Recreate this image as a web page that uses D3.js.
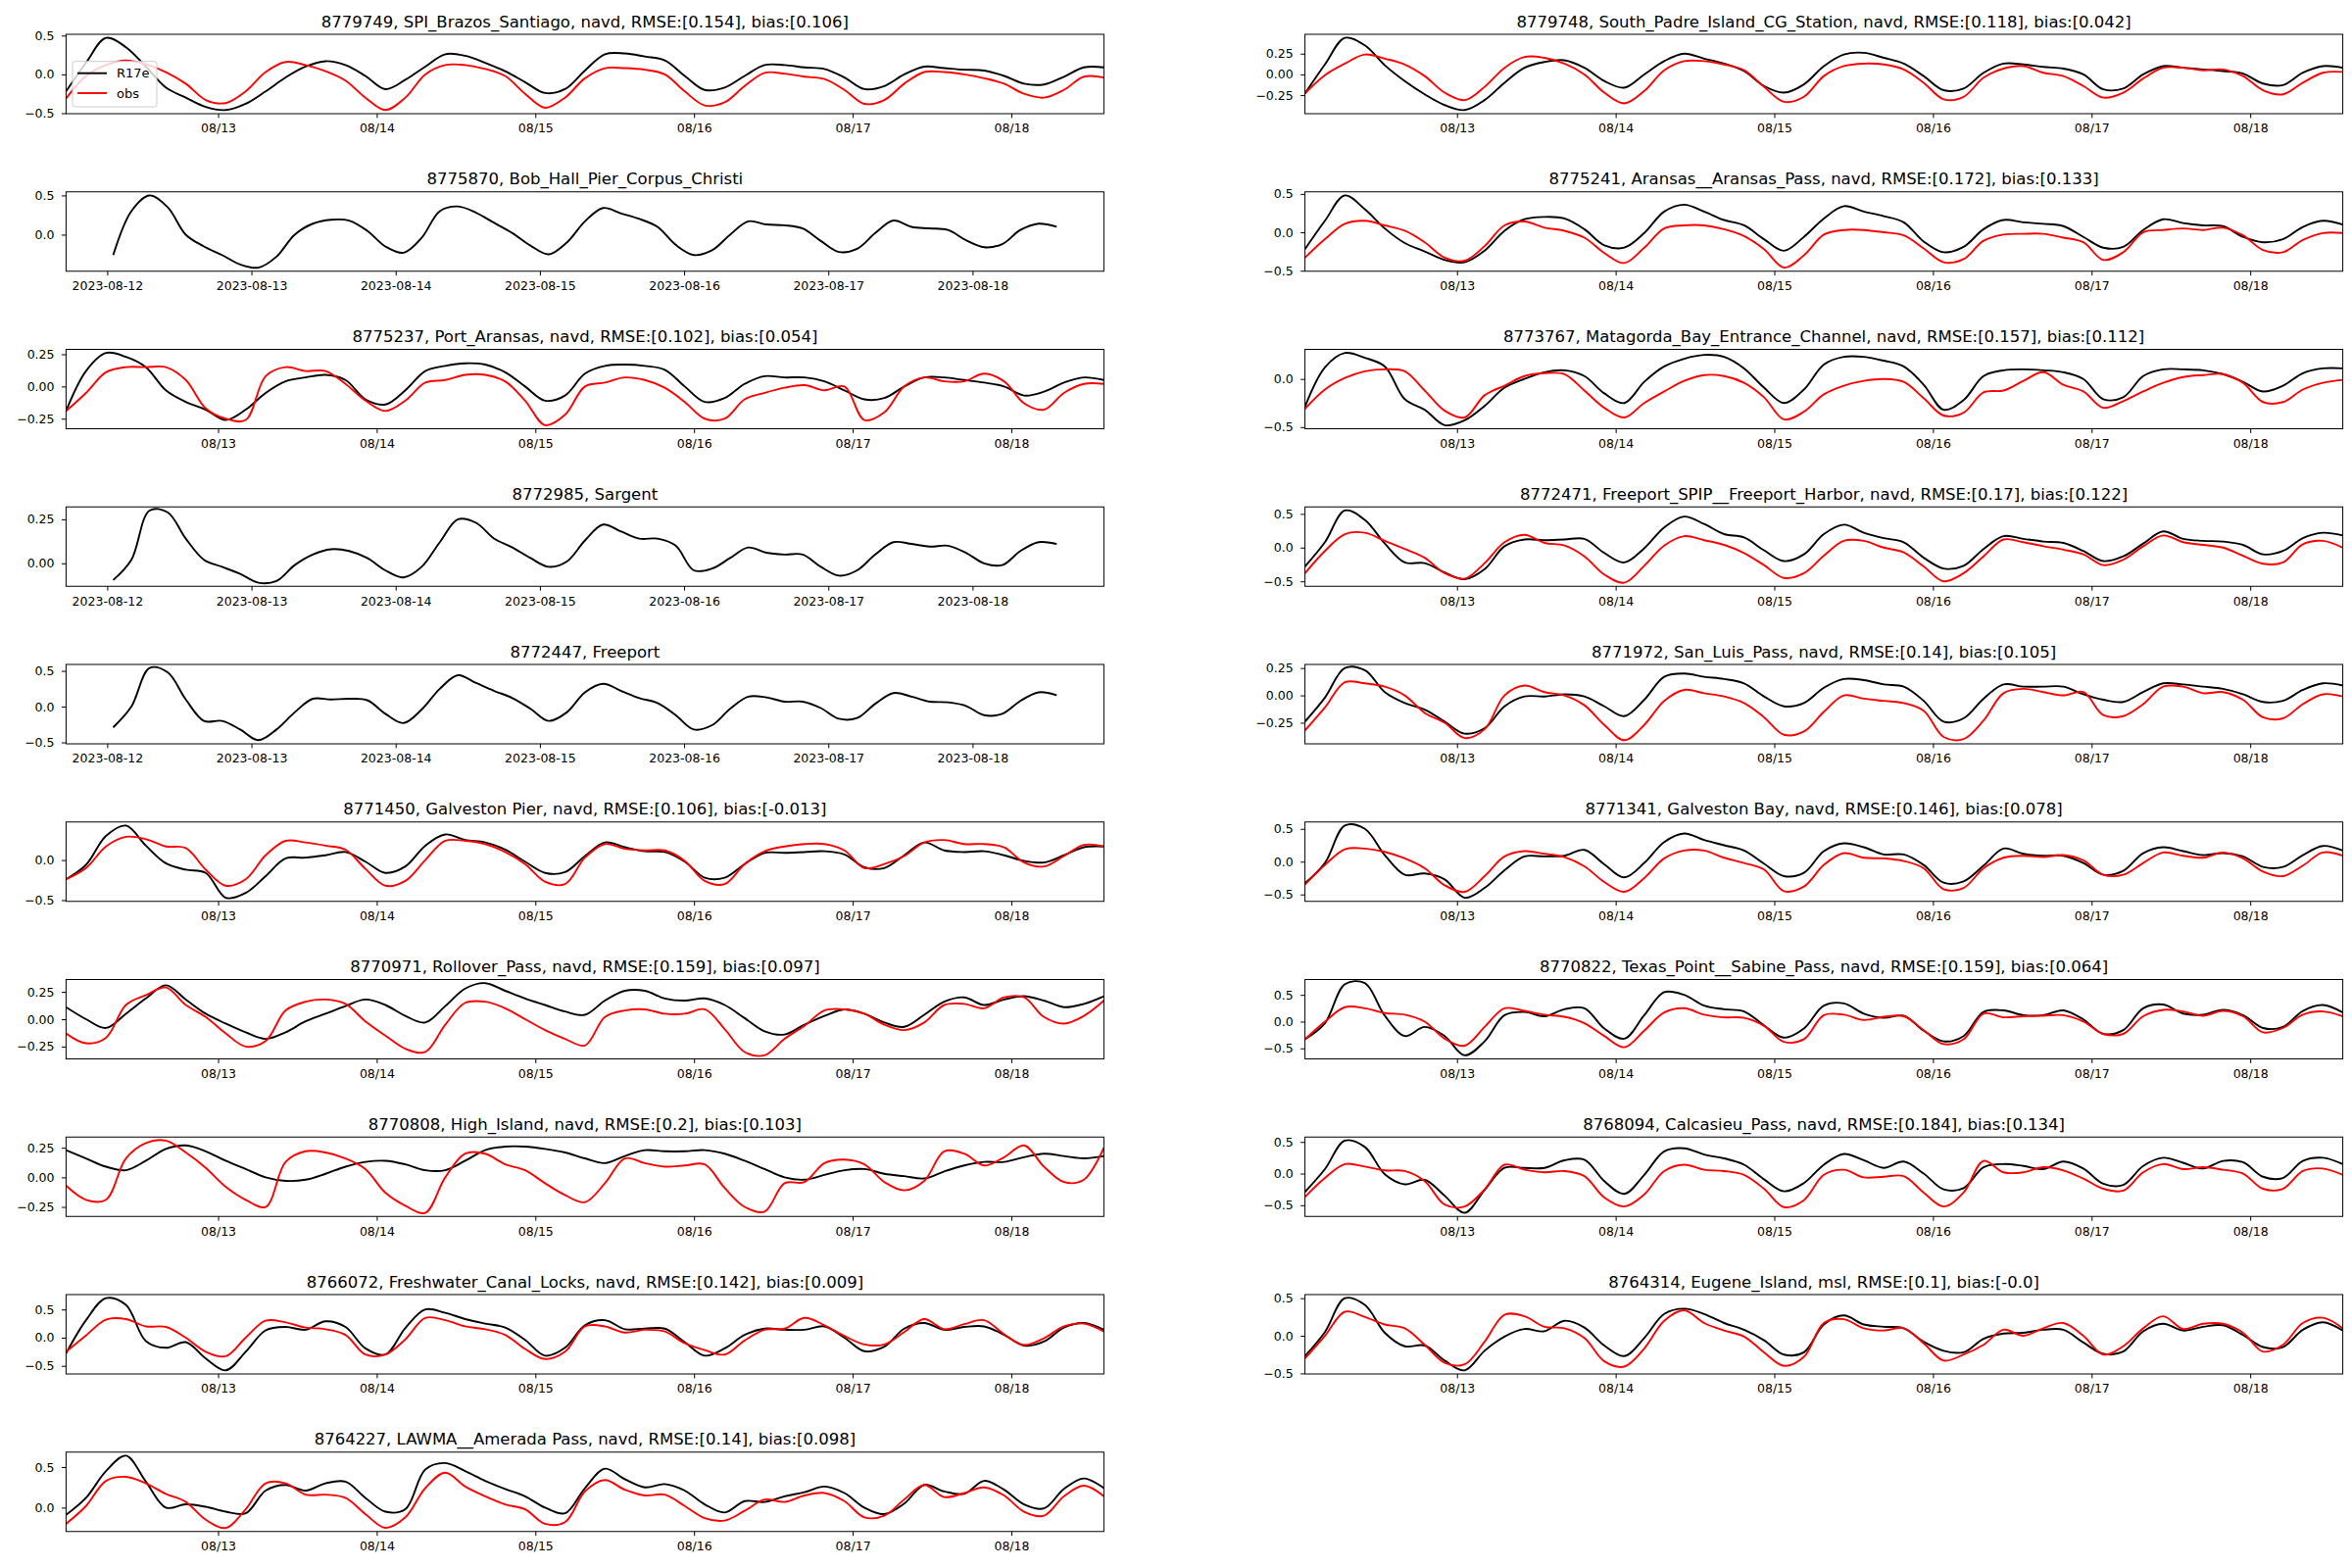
<!DOCTYPE html>
<html>
<head>
<meta charset="utf-8">
<script src="https://d3js.org/d3.v7.min.js"></script>
<style>
  body { margin: 0; background: #ffffff; }
  svg { display: block; }
  text { font-family: "DejaVu Sans", sans-serif; }
</style>
</head>
<body>
<script>
// Water level series, 53 samples from 2023-08-12 01:00 to 2023-08-18 14:00 (UTC)
const r17e_8779749 = [-0.22, 0.15, 0.47, 0.35, 0.1, -0.17, -0.3, -0.42, -0.46, -0.38, -0.22, -0.04, 0.1, 0.17, 0.12, -0.02, -0.19, -0.07, 0.1, 0.26, 0.24, 0.15, 0.04, -0.1, -0.24, -0.19, 0.05, 0.26, 0.27, 0.23, 0.18, -0.02, -0.2, -0.17, -0.02, 0.12, 0.12, 0.09, 0.07, -0.04, -0.19, -0.15, 0.0, 0.1, 0.08, 0.06, 0.05, -0.02, -0.12, -0.13, -0.03, 0.09, 0.09];
const obs_8779749 = [-0.31, -0.02, 0.12, 0.18, 0.13, 0.03, -0.12, -0.33, -0.37, -0.22, 0.03, 0.16, 0.12, 0.04, -0.08, -0.3, -0.46, -0.3, 0.0, 0.12, 0.12, 0.07, -0.02, -0.25, -0.43, -0.3, -0.05, 0.08, 0.08, 0.06, 0.0, -0.22, -0.4, -0.36, -0.15, 0.02, 0.01, -0.03, -0.06, -0.2, -0.38, -0.33, -0.12, 0.03, 0.03, 0.0, -0.05, -0.12, -0.25, -0.3, -0.2, -0.03, -0.04];

const r17e_8779748 = [-0.23, 0.12, 0.44, 0.35, 0.11, -0.08, -0.24, -0.37, -0.43, -0.31, -0.1, 0.08, 0.15, 0.17, 0.08, -0.08, -0.16, 0.0, 0.16, 0.25, 0.19, 0.13, 0.04, -0.14, -0.22, -0.12, 0.1, 0.24, 0.26, 0.2, 0.13, -0.02, -0.19, -0.17, 0.02, 0.13, 0.12, 0.09, 0.07, 0.0, -0.18, -0.17, 0.0, 0.1, 0.08, 0.06, 0.04, 0.01, -0.11, -0.13, 0.02, 0.1, 0.08];
const obs_8779748 = [-0.23, -0.01, 0.13, 0.24, 0.19, 0.12, -0.02, -0.22, -0.31, -0.15, 0.08, 0.21, 0.2, 0.13, 0.0, -0.22, -0.35, -0.2, 0.05, 0.16, 0.16, 0.12, 0.05, -0.15, -0.33, -0.27, -0.02, 0.1, 0.13, 0.12, 0.06, -0.1, -0.3, -0.27, -0.04, 0.07, 0.1, 0.02, -0.02, -0.14, -0.28, -0.22, -0.05, 0.08, 0.08, 0.05, 0.06, -0.02, -0.19, -0.24, -0.1, 0.02, 0.03];

const r17e_8775870 = [-0.26, 0.3, 0.5, 0.35, 0.0, -0.15, -0.26, -0.38, -0.42, -0.28, 0.0, 0.14, 0.19, 0.18, 0.05, -0.15, -0.23, -0.04, 0.3, 0.36, 0.28, 0.15, 0.02, -0.14, -0.25, -0.1, 0.17, 0.34, 0.27, 0.2, 0.1, -0.13, -0.26, -0.2, 0.0, 0.17, 0.13, 0.12, 0.08, -0.08, -0.22, -0.18, 0.02, 0.18, 0.1, 0.08, 0.06, -0.07, -0.16, -0.12, 0.06, 0.14, 0.1];

const r17e_8775241 = [-0.22, 0.15, 0.48, 0.3, 0.05, -0.14, -0.25, -0.36, -0.39, -0.24, 0.02, 0.17, 0.2, 0.18, 0.04, -0.17, -0.2, -0.01, 0.27, 0.36, 0.27, 0.16, 0.09, -0.09, -0.24, -0.06, 0.18, 0.34, 0.27, 0.21, 0.13, -0.12, -0.26, -0.19, 0.04, 0.16, 0.13, 0.11, 0.08, -0.06, -0.2, -0.19, 0.03, 0.17, 0.12, 0.09, 0.08, -0.06, -0.13, -0.09, 0.07, 0.15, 0.1];
const obs_8775241 = [-0.33, -0.09, 0.11, 0.15, 0.09, 0.02, -0.13, -0.33, -0.37, -0.18, 0.09, 0.14, 0.06, 0.02, -0.07, -0.27, -0.4, -0.2, 0.05, 0.09, 0.09, 0.04, -0.05, -0.22, -0.46, -0.3, -0.03, 0.03, 0.03, 0.0, -0.04, -0.21, -0.39, -0.35, -0.11, -0.03, -0.02, -0.02, -0.07, -0.13, -0.36, -0.26, 0.0, 0.03, 0.05, 0.03, 0.06, -0.04, -0.23, -0.26, -0.1, -0.01, -0.01];

const r17e_8775237 = [-0.19, 0.12, 0.26, 0.23, 0.15, -0.03, -0.12, -0.18, -0.26, -0.18, -0.05, 0.04, 0.07, 0.09, 0.05, -0.1, -0.14, -0.03, 0.12, 0.16, 0.18, 0.17, 0.11, 0.0, -0.11, -0.07, 0.1, 0.16, 0.17, 0.16, 0.13, 0.0, -0.12, -0.09, 0.02, 0.08, 0.07, 0.07, 0.04, -0.03, -0.1, -0.09, 0.0, 0.07, 0.07, 0.05, 0.03, 0.0, -0.07, -0.04, 0.03, 0.07, 0.05];
const obs_8775237 = [-0.19, -0.05, 0.11, 0.15, 0.15, 0.15, 0.05, -0.17, -0.25, -0.26, 0.08, 0.15, 0.12, 0.12, 0.02, -0.11, -0.19, -0.11, 0.03, 0.05, 0.09, 0.09, 0.04, -0.11, -0.3, -0.22, 0.0, 0.03, 0.07, 0.05, -0.01, -0.12, -0.25, -0.25, -0.1, -0.05, -0.01, 0.01, -0.03, 0.0, -0.26, -0.2, 0.0, 0.07, 0.04, 0.04, 0.1, 0.04, -0.13, -0.18, -0.05, 0.02, 0.02];

const r17e_8773767 = [-0.29, 0.12, 0.27, 0.22, 0.13, -0.21, -0.32, -0.48, -0.43, -0.28, -0.09, 0.0, 0.07, 0.09, 0.03, -0.15, -0.25, -0.03, 0.13, 0.21, 0.25, 0.23, 0.11, -0.09, -0.25, -0.11, 0.15, 0.23, 0.23, 0.19, 0.13, -0.06, -0.32, -0.22, 0.03, 0.09, 0.1, 0.09, 0.07, 0.0, -0.21, -0.19, 0.03, 0.1, 0.1, 0.09, 0.05, -0.03, -0.13, -0.07, 0.06, 0.11, 0.11];
const obs_8773767 = [-0.31, -0.11, 0.01, 0.08, 0.1, 0.08, -0.12, -0.33, -0.4, -0.17, -0.07, 0.03, 0.06, 0.05, -0.12, -0.3, -0.4, -0.25, -0.13, -0.02, 0.04, 0.03, -0.04, -0.19, -0.42, -0.34, -0.16, -0.07, -0.02, 0.0, -0.03, -0.2, -0.38, -0.35, -0.14, -0.12, -0.02, 0.07, -0.06, -0.13, -0.3, -0.23, -0.13, -0.04, 0.02, 0.04, 0.05, -0.04, -0.24, -0.24, -0.11, -0.04, -0.01];

const r17e_8772985 = [-0.095, 0.02, 0.3, 0.29, 0.14, 0.02, -0.02, -0.06, -0.11, -0.1, -0.01, 0.05, 0.08, 0.07, 0.03, -0.04, -0.08, -0.02, 0.12, 0.25, 0.23, 0.14, 0.09, 0.03, -0.02, 0.01, 0.13, 0.22, 0.18, 0.14, 0.14, 0.1, -0.04, -0.03, 0.03, 0.09, 0.06, 0.05, 0.05, -0.02, -0.07, -0.04, 0.05, 0.12, 0.11, 0.095, 0.1, 0.06, 0.0, -0.01, 0.07, 0.12, 0.11];

const r17e_8772471 = [-0.28, 0.08, 0.55, 0.41, 0.06, -0.22, -0.23, -0.37, -0.47, -0.32, 0.02, 0.12, 0.11, 0.12, 0.13, -0.08, -0.22, -0.01, 0.3, 0.46, 0.35, 0.2, 0.15, -0.04, -0.2, -0.1, 0.2, 0.34, 0.22, 0.14, 0.08, -0.15, -0.31, -0.27, -0.02, 0.17, 0.13, 0.09, 0.07, -0.05, -0.2, -0.13, 0.06, 0.24, 0.13, 0.1, 0.09, 0.04, -0.1, -0.05, 0.14, 0.22, 0.18];
const obs_8772471 = [-0.38, -0.05, 0.2, 0.22, 0.1, -0.02, -0.15, -0.38, -0.46, -0.23, 0.08, 0.19, 0.07, 0.03, -0.13, -0.4, -0.52, -0.27, 0.03, 0.17, 0.11, 0.04, -0.08, -0.26, -0.45, -0.38, -0.12, 0.1, 0.1, 0.0, -0.07, -0.28, -0.5, -0.38, -0.13, 0.12, 0.08, 0.02, -0.03, -0.1, -0.26, -0.18, 0.02, 0.18, 0.08, 0.04, 0.0, -0.12, -0.24, -0.22, 0.05, 0.1, 0.0];

const r17e_8772447 = [-0.29, 0.0, 0.54, 0.48, 0.1, -0.2, -0.2, -0.32, -0.47, -0.32, -0.08, 0.11, 0.1, 0.11, 0.09, -0.1, -0.23, -0.04, 0.25, 0.44, 0.33, 0.22, 0.12, -0.03, -0.2, -0.08, 0.2, 0.32, 0.22, 0.12, 0.05, -0.12, -0.32, -0.26, -0.03, 0.14, 0.13, 0.07, 0.07, -0.02, -0.17, -0.16, 0.04, 0.19, 0.14, 0.07, 0.06, 0.01, -0.12, -0.1, 0.08, 0.2, 0.16];

const r17e_8771972 = [-0.24, -0.02, 0.25, 0.23, 0.03, -0.07, -0.13, -0.24, -0.35, -0.3, -0.1, -0.01, -0.01, 0.01, -0.01, -0.1, -0.19, -0.04, 0.17, 0.2, 0.17, 0.15, 0.11, -0.01, -0.1, -0.07, 0.07, 0.15, 0.14, 0.1, 0.08, -0.05, -0.24, -0.21, -0.03, 0.1, 0.08, 0.08, 0.08, 0.01, -0.04, -0.06, 0.03, 0.11, 0.1, 0.08, 0.06, 0.01, -0.06, -0.05, 0.05, 0.11, 0.09];
const obs_8771972 = [-0.32, -0.11, 0.12, 0.11, 0.08, 0.0, -0.16, -0.25, -0.39, -0.31, 0.0, 0.09, 0.03, 0.0, -0.09, -0.27, -0.41, -0.27, -0.05, 0.05, 0.02, -0.01, -0.07, -0.2, -0.36, -0.33, -0.15, 0.0, -0.03, -0.05, -0.07, -0.14, -0.38, -0.4, -0.23, 0.02, 0.06, 0.03, 0.0, 0.03, -0.18, -0.19, -0.08, 0.08, 0.08, 0.02, 0.03, -0.04, -0.2, -0.21, -0.08, 0.01, -0.01];

const r17e_8771450 = [-0.24, -0.06, 0.3, 0.43, 0.18, -0.04, -0.12, -0.16, -0.47, -0.41, -0.2, 0.02, 0.03, 0.06, 0.1, -0.02, -0.16, -0.08, 0.18, 0.32, 0.25, 0.22, 0.13, -0.02, -0.16, -0.15, 0.05, 0.22, 0.16, 0.11, 0.1, -0.02, -0.22, -0.22, -0.05, 0.09, 0.09, 0.1, 0.11, 0.07, -0.09, -0.1, 0.06, 0.22, 0.12, 0.1, 0.11, 0.06, -0.01, -0.03, 0.06, 0.16, 0.17];
const obs_8771450 = [-0.24, -0.1, 0.17, 0.29, 0.26, 0.17, 0.15, -0.12, -0.32, -0.24, 0.06, 0.24, 0.22, 0.18, 0.13, -0.11, -0.32, -0.26, 0.0, 0.24, 0.24, 0.2, 0.1, -0.05, -0.27, -0.3, 0.03, 0.2, 0.14, 0.12, 0.12, -0.01, -0.26, -0.3, -0.05, 0.11, 0.17, 0.2, 0.2, 0.12, -0.1, -0.05, 0.05, 0.22, 0.25, 0.2, 0.2, 0.16, -0.03, -0.08, 0.05, 0.19, 0.17];

const r17e_8771341 = [-0.33, -0.02, 0.55, 0.5, 0.1, -0.2, -0.18, -0.27, -0.55, -0.4, -0.13, 0.08, 0.08, 0.09, 0.18, -0.04, -0.24, -0.02, 0.3, 0.43, 0.33, 0.25, 0.17, -0.03, -0.22, -0.17, 0.16, 0.28, 0.22, 0.11, 0.11, -0.05, -0.32, -0.3, -0.06, 0.2, 0.12, 0.09, 0.09, -0.02, -0.2, -0.14, 0.13, 0.22, 0.16, 0.1, 0.13, 0.08, -0.08, -0.08, 0.1, 0.24, 0.17];
const obs_8771341 = [-0.35, -0.05, 0.19, 0.2, 0.15, 0.05, -0.1, -0.36, -0.46, -0.22, 0.08, 0.16, 0.12, 0.07, -0.07, -0.31, -0.46, -0.25, 0.05, 0.17, 0.17, 0.06, -0.02, -0.12, -0.45, -0.38, -0.05, 0.13, 0.06, 0.05, 0.01, -0.1, -0.42, -0.4, -0.1, 0.06, 0.09, 0.07, 0.1, 0.02, -0.2, -0.2, -0.02, 0.14, 0.09, 0.06, 0.14, 0.05, -0.15, -0.22, -0.06, 0.14, 0.09];

const r17e_8770971 = [0.11, 0.0, -0.08, 0.05, 0.19, 0.31, 0.18, 0.05, -0.04, -0.12, -0.18, -0.12, -0.02, 0.05, 0.12, 0.18, 0.13, 0.03, -0.03, 0.12, 0.28, 0.33, 0.26, 0.19, 0.13, 0.07, 0.04, 0.17, 0.26, 0.26, 0.19, 0.17, 0.19, 0.13, 0.01, -0.11, -0.14, -0.05, 0.03, 0.09, 0.05, -0.03, -0.07, 0.04, 0.16, 0.2, 0.13, 0.18, 0.21, 0.17, 0.11, 0.14, 0.21];
const obs_8770971 = [-0.13, -0.22, -0.17, 0.13, 0.22, 0.29, 0.13, 0.02, -0.13, -0.25, -0.2, 0.08, 0.16, 0.18, 0.14, -0.02, -0.15, -0.27, -0.3, -0.05, 0.15, 0.16, 0.1, 0.0, -0.1, -0.18, -0.24, 0.02, 0.08, 0.09, 0.05, 0.05, 0.09, -0.09, -0.3, -0.33, -0.18, -0.06, 0.08, 0.09, 0.05, -0.05, -0.1, -0.03, 0.13, 0.14, 0.1, 0.2, 0.2, 0.02, -0.04, 0.03, 0.17];

const r17e_8770822 = [-0.33, -0.03, 0.7, 0.72, 0.11, -0.27, -0.1, -0.27, -0.63, -0.37, 0.12, 0.18, 0.1, 0.23, 0.25, -0.13, -0.32, 0.12, 0.55, 0.5, 0.3, 0.23, 0.19, -0.07, -0.3, -0.13, 0.3, 0.34, 0.15, 0.07, 0.11, -0.17, -0.37, -0.27, 0.18, 0.21, 0.12, 0.12, 0.21, 0.04, -0.23, -0.16, 0.25, 0.32, 0.15, 0.13, 0.22, 0.12, -0.12, -0.1, 0.2, 0.31, 0.17];
const obs_8770822 = [-0.33, 0.0, 0.27, 0.25, 0.16, 0.13, 0.0, -0.32, -0.45, -0.1, 0.25, 0.2, 0.13, 0.09, -0.03, -0.27, -0.48, -0.17, 0.17, 0.25, 0.13, 0.08, 0.07, -0.08, -0.38, -0.33, 0.12, 0.13, 0.03, 0.09, 0.1, -0.16, -0.42, -0.33, 0.15, 0.08, 0.1, 0.11, 0.12, 0.0, -0.23, -0.23, 0.1, 0.22, 0.19, 0.11, 0.2, 0.1, -0.2, -0.12, 0.13, 0.19, 0.1];

const r17e_8770808 = [0.23, 0.16, 0.09, 0.06, 0.14, 0.24, 0.27, 0.22, 0.14, 0.07, 0.0, -0.03, -0.02, 0.03, 0.09, 0.13, 0.14, 0.11, 0.06, 0.06, 0.14, 0.23, 0.26, 0.26, 0.24, 0.21, 0.16, 0.12, 0.18, 0.23, 0.22, 0.22, 0.23, 0.2, 0.14, 0.07, 0.0, -0.02, 0.02, 0.06, 0.07, 0.03, 0.01, -0.01, 0.05, 0.1, 0.13, 0.13, 0.17, 0.2, 0.18, 0.16, 0.18];
const obs_8770808 = [-0.07, -0.19, -0.19, 0.16, 0.29, 0.31, 0.21, 0.08, -0.08, -0.19, -0.25, 0.13, 0.22, 0.21, 0.16, 0.07, -0.13, -0.24, -0.3, 0.0, 0.2, 0.2, 0.11, 0.06, -0.05, -0.15, -0.21, -0.05, 0.16, 0.12, 0.09, 0.1, 0.11, -0.09, -0.25, -0.29, -0.05, -0.04, 0.12, 0.15, 0.11, -0.04, -0.11, -0.03, 0.22, 0.2, 0.1, 0.17, 0.27, 0.09, -0.04, -0.02, 0.25];

const r17e_8768094 = [-0.29, 0.07, 0.52, 0.42, -0.01, -0.17, -0.1, -0.35, -0.62, -0.26, 0.09, 0.09, 0.09, 0.21, 0.22, -0.12, -0.32, -0.02, 0.35, 0.4, 0.3, 0.24, 0.14, -0.09, -0.28, -0.15, 0.14, 0.31, 0.21, 0.09, 0.19, 0.0, -0.25, -0.23, 0.1, 0.15, 0.12, 0.07, 0.19, 0.08, -0.16, -0.18, 0.12, 0.25, 0.17, 0.08, 0.2, 0.18, -0.05, -0.07, 0.2, 0.25, 0.15];
const obs_8768094 = [-0.37, -0.07, 0.15, 0.11, 0.05, 0.04, -0.12, -0.49, -0.52, -0.25, 0.14, 0.06, 0.02, 0.04, -0.04, -0.38, -0.52, -0.33, 0.04, 0.14, 0.06, 0.04, -0.02, -0.24, -0.53, -0.42, -0.02, 0.06, -0.06, -0.05, -0.04, -0.3, -0.52, -0.3, 0.2, 0.02, 0.02, 0.1, 0.05, -0.08, -0.24, -0.27, 0.02, 0.15, 0.07, 0.1, 0.06, 0.0, -0.24, -0.24, 0.04, 0.08, -0.02];

const r17e_8766072 = [-0.28, 0.31, 0.7, 0.58, -0.06, -0.18, -0.08, -0.37, -0.58, -0.25, 0.13, 0.19, 0.14, 0.29, 0.19, -0.19, -0.3, 0.17, 0.5, 0.44, 0.33, 0.25, 0.18, -0.04, -0.32, -0.18, 0.22, 0.31, 0.15, 0.16, 0.16, -0.08, -0.32, -0.19, 0.05, 0.16, 0.14, 0.14, 0.2, 0.0, -0.24, -0.16, 0.16, 0.26, 0.14, 0.19, 0.2, 0.05, -0.14, -0.07, 0.18, 0.26, 0.14];
const obs_8766072 = [-0.25, 0.04, 0.32, 0.33, 0.2, 0.19, 0.0, -0.25, -0.33, 0.0, 0.3, 0.27, 0.18, 0.15, 0.05, -0.3, -0.3, -0.03, 0.35, 0.31, 0.2, 0.15, 0.05, -0.2, -0.38, -0.25, 0.2, 0.2, 0.09, 0.14, 0.11, -0.1, -0.22, -0.3, -0.05, 0.14, 0.16, 0.35, 0.22, 0.03, -0.12, -0.12, 0.1, 0.33, 0.15, 0.24, 0.31, 0.06, -0.13, -0.01, 0.2, 0.25, 0.11];

const r17e_8764314 = [-0.27, 0.05, 0.5, 0.41, 0.04, -0.14, -0.13, -0.33, -0.46, -0.2, -0.01, 0.09, 0.06, 0.2, 0.11, -0.13, -0.27, -0.03, 0.29, 0.36, 0.29, 0.17, 0.08, -0.06, -0.25, -0.22, 0.15, 0.27, 0.15, 0.12, 0.1, -0.08, -0.2, -0.22, -0.04, 0.03, 0.04, 0.08, 0.08, -0.09, -0.24, -0.21, 0.06, 0.16, 0.07, 0.12, 0.14, 0.01, -0.15, -0.15, 0.08, 0.18, 0.07];
const obs_8764314 = [-0.3, 0.0, 0.32, 0.25, 0.15, 0.1, -0.12, -0.36, -0.38, -0.08, 0.28, 0.26, 0.12, 0.1, -0.03, -0.34, -0.41, -0.17, 0.2, 0.34, 0.17, 0.07, -0.01, -0.22, -0.4, -0.28, 0.17, 0.22, 0.1, 0.07, 0.1, -0.1, -0.33, -0.25, -0.12, 0.08, 0.0, 0.1, 0.17, 0.0, -0.25, -0.14, 0.1, 0.26, 0.09, 0.16, 0.16, 0.04, -0.21, -0.12, 0.17, 0.24, 0.1];

const r17e_8764227 = [-0.09, 0.12, 0.45, 0.64, 0.32, 0.0, 0.04, 0.01, -0.05, -0.07, 0.21, 0.28, 0.21, 0.3, 0.32, 0.12, -0.05, -0.02, 0.47, 0.55, 0.45, 0.33, 0.23, 0.14, 0.0, -0.07, 0.24, 0.48, 0.35, 0.25, 0.29, 0.21, 0.04, -0.06, 0.08, 0.07, 0.14, 0.19, 0.26, 0.18, 0.0, -0.08, 0.05, 0.28, 0.2, 0.17, 0.33, 0.22, 0.04, -0.01, 0.23, 0.36, 0.24];
const obs_8764227 = [-0.2, 0.02, 0.33, 0.38, 0.3, 0.17, 0.07, -0.15, -0.25, -0.02, 0.3, 0.3, 0.16, 0.16, 0.12, -0.08, -0.25, -0.12, 0.24, 0.43, 0.26, 0.14, 0.04, -0.02, -0.2, -0.18, 0.2, 0.34, 0.22, 0.15, 0.16, 0.02, -0.13, -0.16, -0.04, 0.1, 0.07, 0.15, 0.18, 0.08, -0.12, -0.1, 0.1, 0.28, 0.13, 0.18, 0.25, 0.15, -0.05, -0.1, 0.14, 0.27, 0.14];

// Station tables, in subplot order (row by row, two columns)
const stationIds = ["8779749", "8779748", "8775870", "8775241", "8775237", "8773767", "8772985", "8772471", "8772447", "8771972",
  "8771450", "8771341", "8770971", "8770822", "8770808", "8768094", "8766072", "8764314", "8764227"];
const stationNames = ["SPI_Brazos_Santiago", "South_Padre_Island_CG_Station", "Bob_Hall_Pier_Corpus_Christi", "Aransas__Aransas_Pass",
  "Port_Aransas", "Matagorda_Bay_Entrance_Channel", "Sargent", "Freeport_SPIP__Freeport_Harbor", "Freeport", "San_Luis_Pass",
  "Galveston Pier", "Galveston Bay", "Rollover_Pass", "Texas_Point__Sabine_Pass", "High_Island", "Calcasieu_Pass",
  "Freshwater_Canal_Locks", "Eugene_Island", "LAWMA__Amerada Pass"];
const datums = ["navd", "navd", null, "navd", "navd", "navd", null, "navd", null, "navd",
  "navd", "navd", "navd", "navd", "navd", "navd", "navd", "msl", "navd"];
const rmseLabels = ["0.154", "0.118", null, "0.172", "0.102", "0.157", null, "0.17", null, "0.14",
  "0.106", "0.146", "0.159", "0.159", "0.2", "0.184", "0.142", "0.1", "0.14"];
const biasLabels = ["0.106", "0.042", null, "0.133", "0.054", "0.112", null, "0.122", null, "0.105",
  "-0.013", "0.078", "0.097", "0.064", "0.103", "0.134", "0.009", "-0.0", "0.098"];
const modelSeries = [r17e_8779749, r17e_8779748, r17e_8775870, r17e_8775241, r17e_8775237, r17e_8773767, r17e_8772985,
  r17e_8772471, r17e_8772447, r17e_8771972, r17e_8771450, r17e_8771341, r17e_8770971, r17e_8770822, r17e_8770808,
  r17e_8768094, r17e_8766072, r17e_8764314, r17e_8764227];
const obsSeries = [obs_8779749, obs_8779748, null, obs_8775241, obs_8775237, obs_8773767, null,
  obs_8772471, null, obs_8771972, obs_8771450, obs_8771341, obs_8770971, obs_8770822, obs_8770808,
  obs_8768094, obs_8766072, obs_8764314, obs_8764227];
const yTickValues = [[-0.5, 0, 0.5], [-0.25, 0, 0.25], [0, 0.5], [-0.5, 0, 0.5], [-0.25, 0, 0.25], [-0.5, 0],
  [0, 0.25], [-0.5, 0, 0.5], [-0.5, 0, 0.5], [-0.25, 0, 0.25], [-0.5, 0], [-0.5, 0, 0.5], [-0.25, 0, 0.25],
  [-0.5, 0, 0.5], [-0.25, 0, 0.25], [-0.5, 0, 0.5], [-0.5, 0, 0.5], [-0.5, 0, 0.5], [0, 0.5]];
const seriesLabels = ["R17e", "obs"];

// Layout
const figWidth = 2400, figHeight = 1600;
const colLeft = [67.4, 1331.6];
const firstTop = 35, rowStep = 160.75;
const axWidth = 1059, axHeight = 81;
const tickFont = 12.5, titleFont = 16.5;
const modelColor = "#000000", obsColor = "#ff0000";

const startTime = new Date(Date.UTC(2023, 7, 12, 1));
const endTime = new Date(Date.UTC(2023, 7, 18, 14));

const svg = d3.select("body").append("svg")
    .attr("width", figWidth)
    .attr("height", figHeight)
    .attr("viewBox", "0 0 " + figWidth + " " + figHeight);

svg.append("rect").attr("width", figWidth).attr("height", figHeight).attr("fill", "#ffffff");

// spread the samples evenly over the record period
function toPoints(values) {
    const step = (endTime - startTime) / (values.length - 1);
    return values.map(function(v, i) { return {time: new Date(+startTime + i * step), value: v}; });
}

function drawPanel(i) {
    const col = i % 2, row = Math.floor(i / 2);
    const g = svg.append("g")
        .attr("transform", "translate(" + colLeft[col] + "," + (firstTop + row * rowStep) + ")");

    const model = toPoints(modelSeries[i]);
    const obs = obsSeries[i] ? toPoints(obsSeries[i]) : null;

    // tight x limits with obs, matplotlib-style 5% margins for model only
    let xDomain = [startTime, endTime];
    if (!obs) {
        const span = endTime - startTime;
        xDomain = [new Date(+startTime - span * 0.05), new Date(+endTime + span * 0.05)];
    }
    const x = d3.scaleUtc().domain(xDomain).range([0, axWidth]);

    const values = modelSeries[i].concat(obsSeries[i] || []);
    const lo = d3.min(values), hi = d3.max(values), pad = (hi - lo) * 0.05;
    const y = d3.scaleLinear().domain([lo - pad, hi + pad]).range([axHeight, 0]);

    const clipId = "clip" + i;
    g.append("clipPath").attr("id", clipId)
        .append("rect").attr("width", axWidth).attr("height", axHeight);

    const line = d3.line()
        .x(function(d) { return x(d.time); })
        .y(function(d) { return y(d.value); })
        .curve(d3.curveCatmullRom);

    const plot = g.append("g").attr("clip-path", "url(#" + clipId + ")");
    plot.append("path")
        .datum(model)
        .attr("d", line)
        .attr("fill", "none")
        .attr("stroke", modelColor)
        .attr("stroke-width", 1.9)
        .attr("stroke-linejoin", "round");
    if (obs) {
        plot.append("path")
            .datum(obs)
            .attr("d", line)
            .attr("fill", "none")
            .attr("stroke", obsColor)
            .attr("stroke-width", 1.9)
            .attr("stroke-linejoin", "round");
    }

    // x axis: one tick per day
    const dayTicks = d3.utcDay.range(d3.utcDay.ceil(xDomain[0]), xDomain[1]);
    const xAxis = g.append("g")
        .attr("transform", "translate(0," + axHeight + ")")
        .call(d3.axisBottom(x)
            .tickValues(dayTicks)
            .tickFormat(d3.utcFormat(obs ? "%m/%d" : "%Y-%m-%d"))
            .tickSize(4.4)
            .tickPadding(6));
    xAxis.select(".domain").remove();
    xAxis.attr("font-size", tickFont).attr("font-family", "DejaVu Sans");

    // y axis
    const yDom = y.domain();
    const ticks = yTickValues[i].filter(function(t) { return t >= yDom[0] - 1e-9 && t <= yDom[1] + 1e-9; });
    const twoDecimals = yTickValues[i].some(function(t) { return Math.abs(t * 10 - Math.round(t * 10)) > 1e-9; });
    const yAxis = g.append("g")
        .call(d3.axisLeft(y)
            .tickValues(ticks)
            .tickFormat(d3.format(twoDecimals ? ".2f" : ".1f"))
            .tickSize(4.4)
            .tickPadding(7.5));
    yAxis.select(".domain").remove();
    yAxis.attr("font-size", tickFont).attr("font-family", "DejaVu Sans");

    // frame
    g.append("rect")
        .attr("width", axWidth)
        .attr("height", axHeight)
        .attr("fill", "none")
        .attr("stroke", "#000000")
        .attr("stroke-width", 1);

    // title
    let title = stationIds[i] + ", " + stationNames[i];
    if (datums[i]) {
        title += ", " + datums[i] + ", RMSE:[" + rmseLabels[i] + "], bias:[" + biasLabels[i] + "]";
    }
    g.append("text")
        .attr("x", axWidth / 2)
        .attr("y", -7.5)
        .attr("text-anchor", "middle")
        .attr("font-size", titleFont)
        .text(title);

    // legend sits in the first subplot only
    if (i === 0) {
        const legend = g.append("g").attr("transform", "translate(6.6,27.7)");
        legend.append("rect")
            .attr("width", 86)
            .attr("height", 46.3)
            .attr("rx", 2.5)
            .attr("fill", "#ffffff")
            .attr("fill-opacity", 0.8)
            .attr("stroke", "#cccccc")
            .attr("stroke-width", 1);
        [modelColor, obsColor].forEach(function(color, j) {
            const cy = 12 + j * 20.3;
            legend.append("line")
                .attr("x1", 5).attr("x2", 35)
                .attr("y1", cy).attr("y2", cy)
                .attr("stroke", color)
                .attr("stroke-width", 1.9);
            legend.append("text")
                .attr("x", 45)
                .attr("y", cy)
                .attr("dy", "0.35em")
                .attr("font-size", 13)
                .text(seriesLabels[j]);
        });
    }
}

stationIds.forEach(function(id, i) { drawPanel(i); });
</script>
</body>
</html>
